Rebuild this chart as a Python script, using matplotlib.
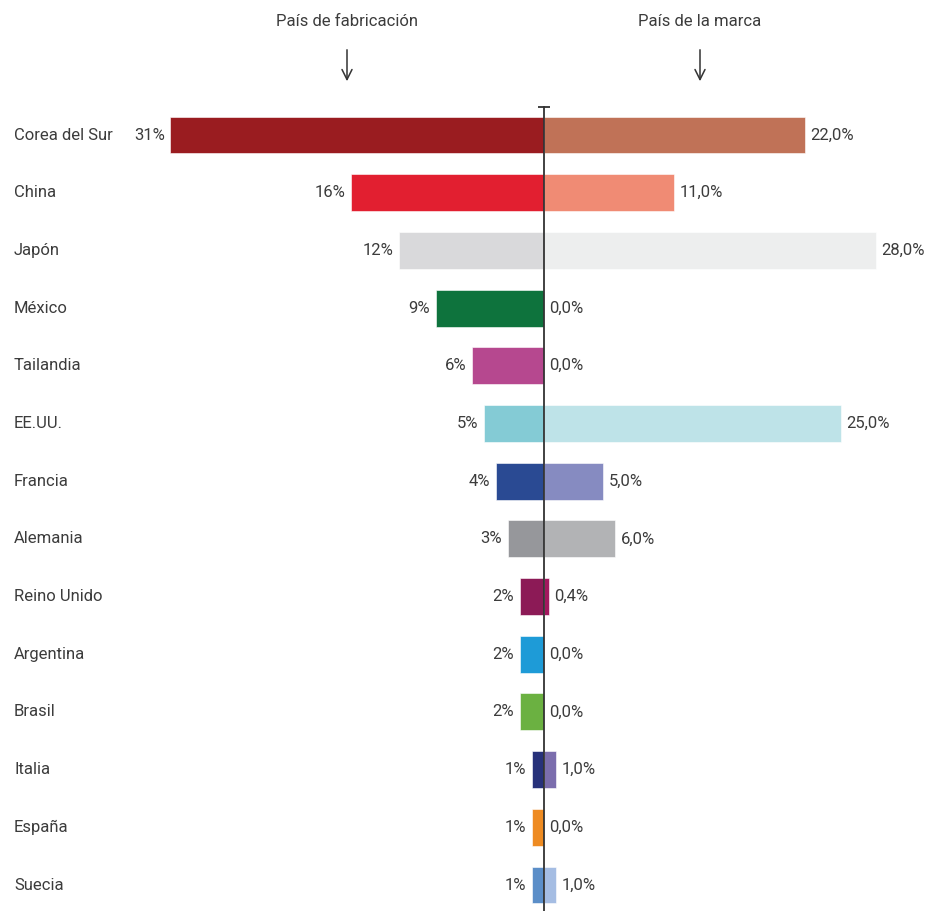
import numpy as np
import matplotlib.pyplot as plt

plt.rcParams['font.family'] = ['Roboto', 'DejaVu Sans']

# data
countries = ['Corea del Sur', 'China', 'Japón', 'México', 'Tailandia', 'EE.UU.',
             'Francia', 'Alemania', 'Reino Unido', 'Argentina', 'Brasil',
             'Italia', 'España', 'Suecia']
made_in = [31, 16, 12, 9, 6, 5, 4, 3, 2, 2, 2, 1, 1, 1]
brand = [22.0, 11.0, 28.0, 0.0, 0.0, 25.0, 5.0, 6.0, 0.4, 0.0, 0.0, 1.0, 0.0, 1.0]

left_colors = ['#9A1C20', '#E21F30', '#D9D9DB', '#0E733D', '#B6488F', '#84CBD5',
               '#2A4A93', '#96979B', '#8C1A56', '#1E9BD7', '#6BB141', '#27317A',
               '#EE8B22', '#5B8EC8']
right_colors = ['#C07257', '#F08B74', '#EDEEEE', '#0E733D', '#B6488F', '#BEE3E8',
                '#868BC1', '#B2B3B5', '#A3185E', '#1E9BD7', '#6BB141', '#7B6DAD',
                '#EE8B22', '#A5BDE3']

headers = ['País de fabricación', 'País de la marca']

W, H = 930, 911
cx = 544          # centre line, px
sl, sr = 12.05, 11.86   # px per percent, left / right
txt = '#3C3C3C'
fs = 12

fig = plt.figure(figsize=(W / 100, H / 100), dpi=100)
axl = fig.add_axes([0, 0, cx / W, 1])
axr = fig.add_axes([cx / W, 0, 1 - cx / W, 1], sharey=axl)

y = np.arange(len(countries))
axl.barh(y, made_in, height=0.64, color=left_colors, edgecolor='white', linewidth=0.4)
axr.barh(y, brand, height=0.64, color=right_colors, edgecolor='white', linewidth=0.4)

axl.set_xlim(cx / sl, 0)
axr.set_xlim(0, (W - cx) / sr)
axl.set_ylim(13.45, -2.34)

for i, (m, b) in enumerate(zip(made_in, brand)):
    axl.annotate(f'{m}%', (m, i), xytext=(-4, 0), textcoords='offset points',
                 ha='right', va='center', fontsize=fs, color=txt)
    axr.annotate(f'{b:.1f}%'.replace('.', ','), (b, i), xytext=(4, 0),
                 textcoords='offset points', ha='left', va='center',
                 fontsize=fs, color=txt)
    axl.text(14 / cx, i, countries[i], transform=axl.get_yaxis_transform(),
             ha='left', va='center', fontsize=fs, color=txt)

for a in (axl, axr):
    a.axis('off')

# centre line with small cap at the top
axr.axvline(0, ymin=0, ymax=(13.45 + 0.48) / (13.45 + 2.34), color='#333333', lw=1.3,
            clip_on=False)
axr.plot(0, -0.48, marker='_', markersize=9, mew=1.3, color='#333333', clip_on=False)

# column headers with arrows
for xp, h in zip([347, 700], headers):
    fig.text(xp / W, 1 - 22 / H, h, ha='center', va='center', fontsize=fs, color=txt)
    axl.annotate('', xy=(xp / W, 1 - 84 / H), xytext=(xp / W, 1 - 47 / H),
                 xycoords='figure fraction', textcoords='figure fraction',
                 arrowprops=dict(arrowstyle='->', color='#333333', lw=1.1,
                                 mutation_scale=18))

fig.savefig('out.png', dpi=100)
